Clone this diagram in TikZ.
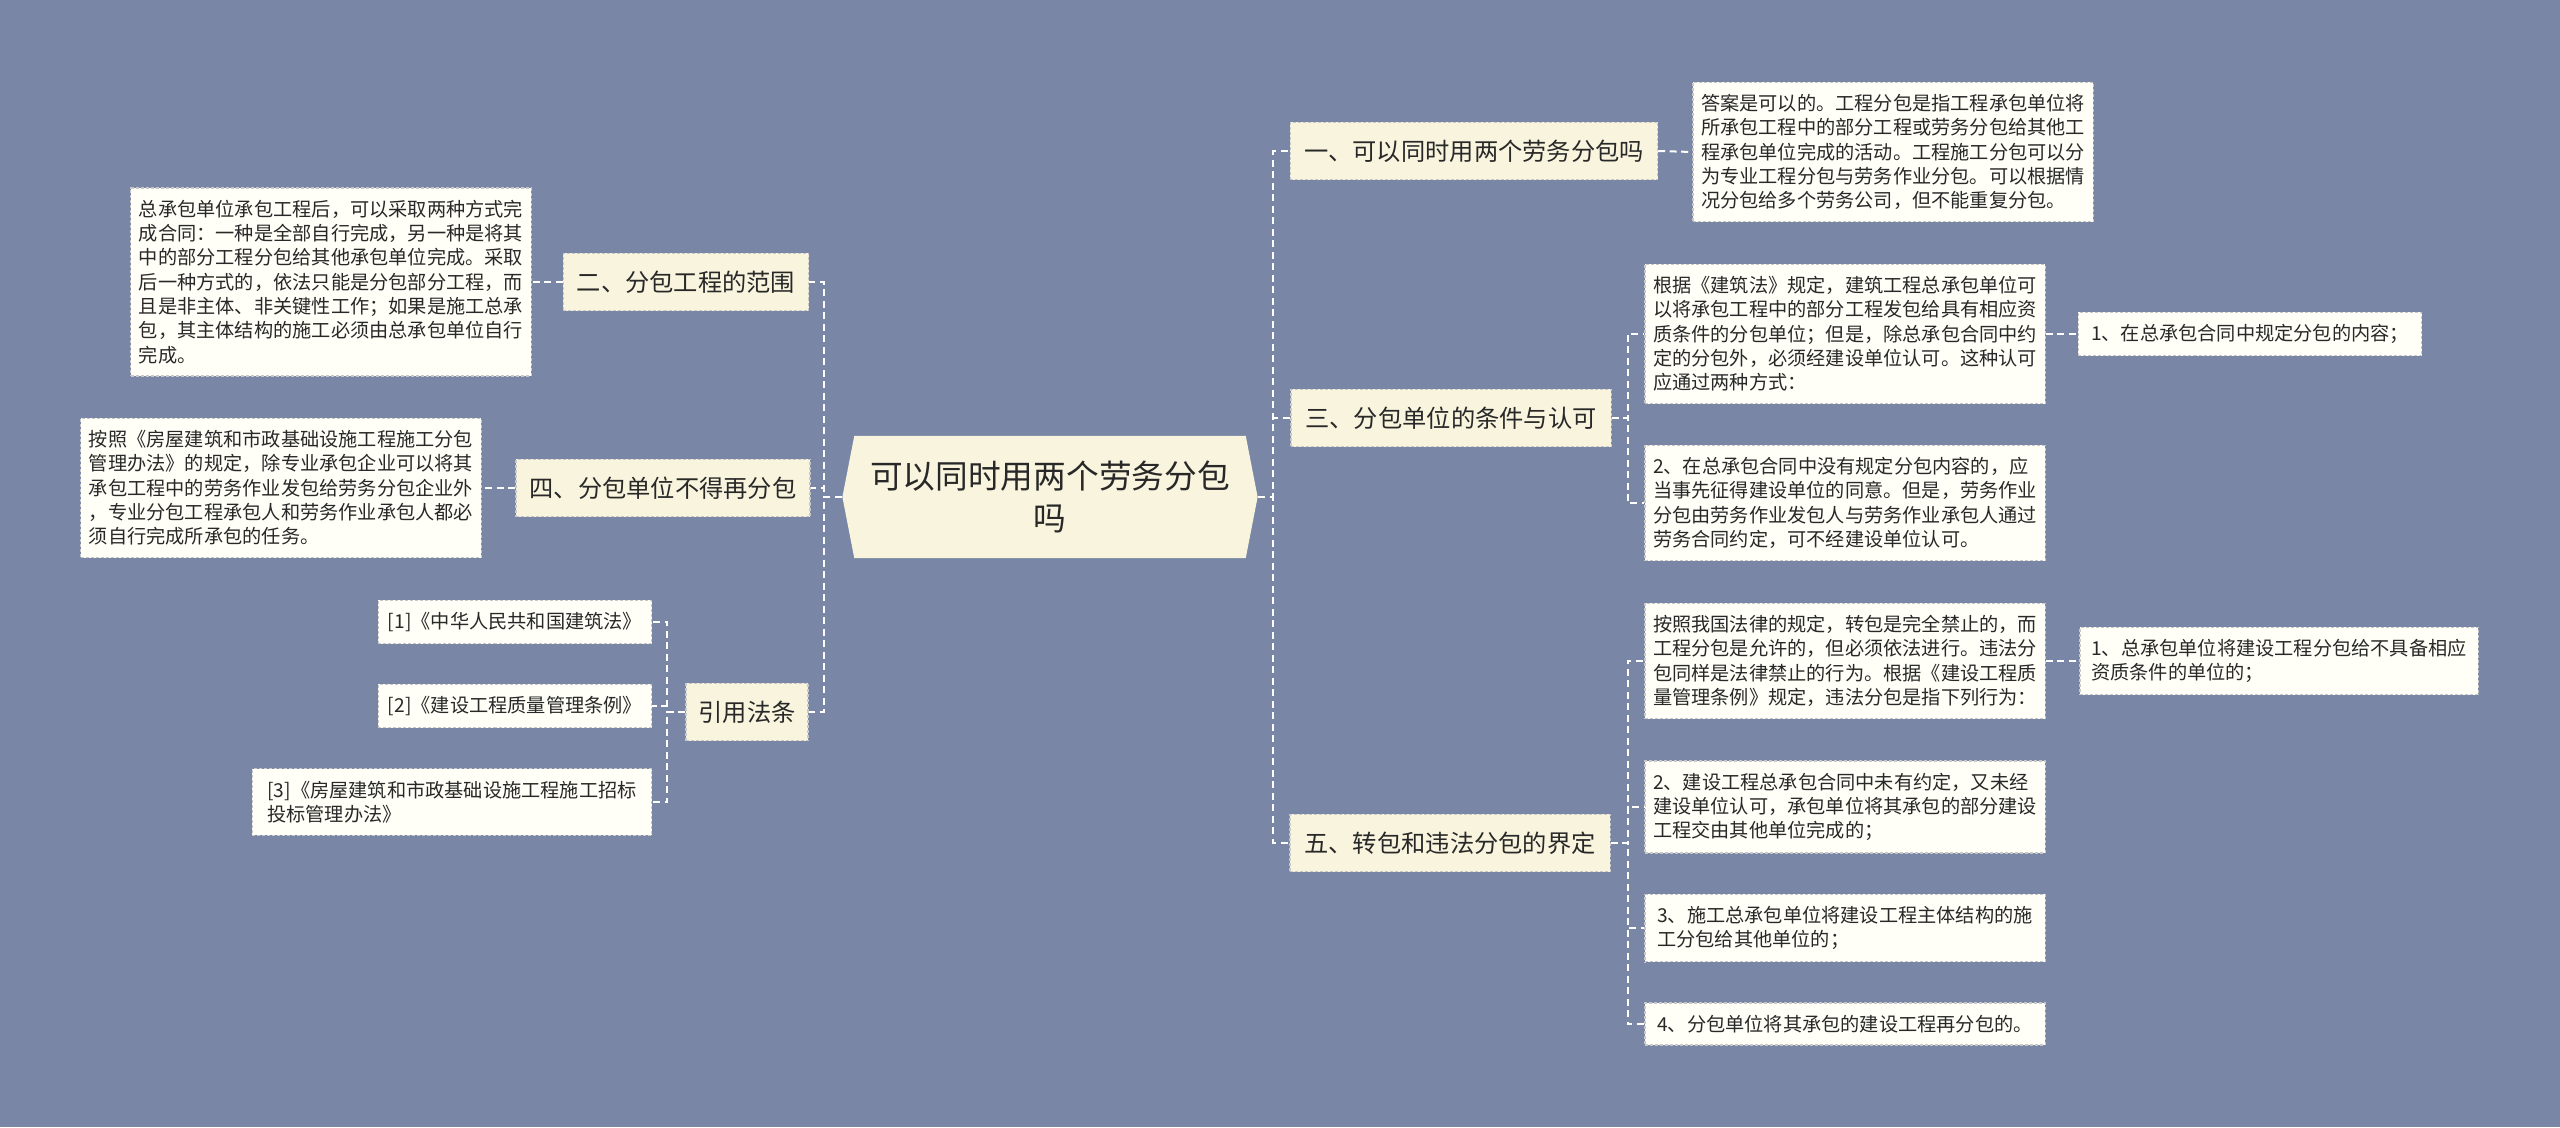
\documentclass[tikz,border=0pt]{standalone}
\usepackage{fontspec}
\setmainfont{Noto Sans CJK SC}
\usetikzlibrary{shapes.symbols}
\definecolor{bgblue}{RGB}{121,134,165}
\definecolor{cream}{RGB}{248,244,222}
\definecolor{paper}{RGB}{255,255,248}
\definecolor{ink}{RGB}{40,40,40}
\definecolor{edge}{RGB}{200,200,200}

\begin{document}
\begin{tikzpicture}[x=0.01cm, y=-0.01cm,
    topic/.style={signal, signal to=west and east, signal pointer angle=158, fill=cream, text=ink, minimum width=4.15cm, minimum height=1.22cm, align=center, font=\fontsize{9.3pt}{12pt}\selectfont, inner sep=0pt},
    branch/.style={draw=edge, dash pattern=on 0.03cm off 0.02cm, line width=0.012cm, fill=cream, text=ink, minimum height=0.57cm, font=\fontsize{6.9pt}{8pt}\selectfont, inner sep=0pt},
    note/.style={draw=edge, dash pattern=on 0.03cm off 0.02cm, line width=0.012cm, fill=paper, text=ink, align=left, font=\fontsize{5.46pt}{6.92pt}\selectfont, inner xsep=0.08cm, inner ysep=0.12cm},
    link/.style={draw=white, line width=0.02cm, dash pattern=on 0.07cm off 0.045cm}]
    \fill[bgblue] (0,0) rectangle (2560,1127);
    \node[topic] (hub) at (1050,497) {可以同时用两个劳务分包\\吗};
    % left side
    \node[branch, minimum width=2.45cm] (scope) at (686,282) {二、分包工程的范围};
    \node[branch, minimum width=2.94cm] (nore) at (663,488) {四、分包单位不得再分包};
    \node[branch, minimum width=1.22cm] (laws) at (747,712) {引用法条};
    \node[note, minimum width=4.0cm] (scopetxt) at (331,282) {总承包单位承包工程后，可以采取两种方式完\\成合同：一种是全部自行完成，另一种是将其\\中的部分工程分包给其他承包单位完成。采取\\后一种方式的，依法只能是分包部分工程，而\\且是非主体、非关键性工作；如果是施工总承\\包，其主体结构的施工必须由总承包单位自行\\完成。};
    \node[note, minimum width=4.0cm] (noretxt) at (281,488) {按照《房屋建筑和市政基础设施工程施工分包\\管理办法》的规定，除专业承包企业可以将其\\承包工程中的劳务作业发包给劳务分包企业外\\，专业分包工程承包人和劳务作业承包人都必\\须自行完成所承包的任务。};
    \node[note, minimum width=2.73cm] (law1) at (515,622) {[1]《中华人民共和国建筑法》};
    \node[note, minimum width=2.73cm] (law2) at (515,706) {[2]《建设工程质量管理条例》};
    \node[note, minimum width=3.99cm] (law3) at (452,802) {[3]《房屋建筑和市政基础设施工程施工招标\\投标管理办法》};
    % right side
    \node[branch, minimum width=3.67cm] (ans) at (1474,151) {一、可以同时用两个劳务分包吗};
    \node[branch, minimum width=3.20cm] (cond) at (1451,418) {三、分包单位的条件与认可};
    \node[branch, minimum width=3.20cm] (illeg) at (1450,843) {五、转包和违法分包的界定};
    \node[note, minimum width=4.0cm] (anstxt) at (1893,152) {答案是可以的。工程分包是指工程承包单位将\\所承包工程中的部分工程或劳务分包给其他工\\程承包单位完成的活动。工程施工分包可以分\\为专业工程分包与劳务作业分包。可以根据情\\况分包给多个劳务公司，但不能重复分包。};
    \node[note, minimum width=4.0cm] (cond1) at (1845,334) {根据《建筑法》规定，建筑工程总承包单位可\\以将承包工程中的部分工程发包给具有相应资\\质条件的分包单位；但是，除总承包合同中约\\定的分包外，必须经建设单位认可。这种认可\\应通过两种方式：};
    \node[note, minimum width=3.43cm] (cond1a) at (2250,334) {1、在总承包合同中规定分包的内容；};
    \node[note, minimum width=4.0cm] (cond2) at (1845,503) {2、在总承包合同中没有规定分包内容的，应\\当事先征得建设单位的同意。但是，劳务作业\\分包由劳务作业发包人与劳务作业承包人通过\\劳务合同约定，可不经建设单位认可。};
    \node[note, minimum width=4.0cm] (ill1) at (1845,661) {按照我国法律的规定，转包是完全禁止的，而\\工程分包是允许的，但必须依法进行。违法分\\包同样是法律禁止的行为。根据《建设工程质\\量管理条例》规定，违法分包是指下列行为：};
    \node[note, minimum width=3.98cm] (ill1a) at (2279,661) {1、总承包单位将建设工程分包给不具备相应\\资质条件的单位的；};
    \node[note, minimum width=4.0cm] (ill2) at (1845,807) {2、建设工程总承包合同中未有约定，又未经\\建设单位认可，承包单位将其承包的部分建设\\工程交由其他单位完成的；};
    \node[note, minimum width=4.0cm] (ill3) at (1845,928) {3、施工总承包单位将建设工程主体结构的施\\工分包给其他单位的；};
    \node[note, minimum width=4.0cm] (ill4) at (1845,1024) {4、分包单位将其承包的建设工程再分包的。};
    % connectors
    \draw[link] (hub.west) -- ++(-18,0) |- (scope.east);
    \draw[link] (hub.west) -- ++(-18,0) |- (nore.east);
    \draw[link] (hub.west) -- ++(-18,0) |- (laws.east);
    \draw[link] (scope.west) -- (scopetxt.east);
    \draw[link] (nore.west) -- (noretxt.east);
    \draw[link] (laws.west) -- ++(-18,0) |- (law1.east);
    \draw[link] (laws.west) -- ++(-18,0) |- (law2.east);
    \draw[link] (laws.west) -- ++(-18,0) |- (law3.east);
    \draw[link] (hub.east) -- ++(15,0) |- (ans.west);
    \draw[link] (hub.east) -- ++(15,0) |- (cond.west);
    \draw[link] (hub.east) -- ++(15,0) |- (illeg.west);
    \draw[link] (ans.east) -- (anstxt.west);
    \draw[link] (cond.east) -- ++(16,0) |- (cond1.west);
    \draw[link] (cond.east) -- ++(16,0) |- (cond2.west);
    \draw[link] (cond1.east) -- (cond1a.west);
    \draw[link] (illeg.east) -- ++(17,0) |- (ill1.west);
    \draw[link] (illeg.east) -- ++(17,0) |- (ill2.west);
    \draw[link] (illeg.east) -- ++(17,0) |- (ill3.west);
    \draw[link] (illeg.east) -- ++(17,0) |- (ill4.west);
    \draw[link] (ill1.east) -- (ill1a.west);
\end{tikzpicture}
\end{document}
